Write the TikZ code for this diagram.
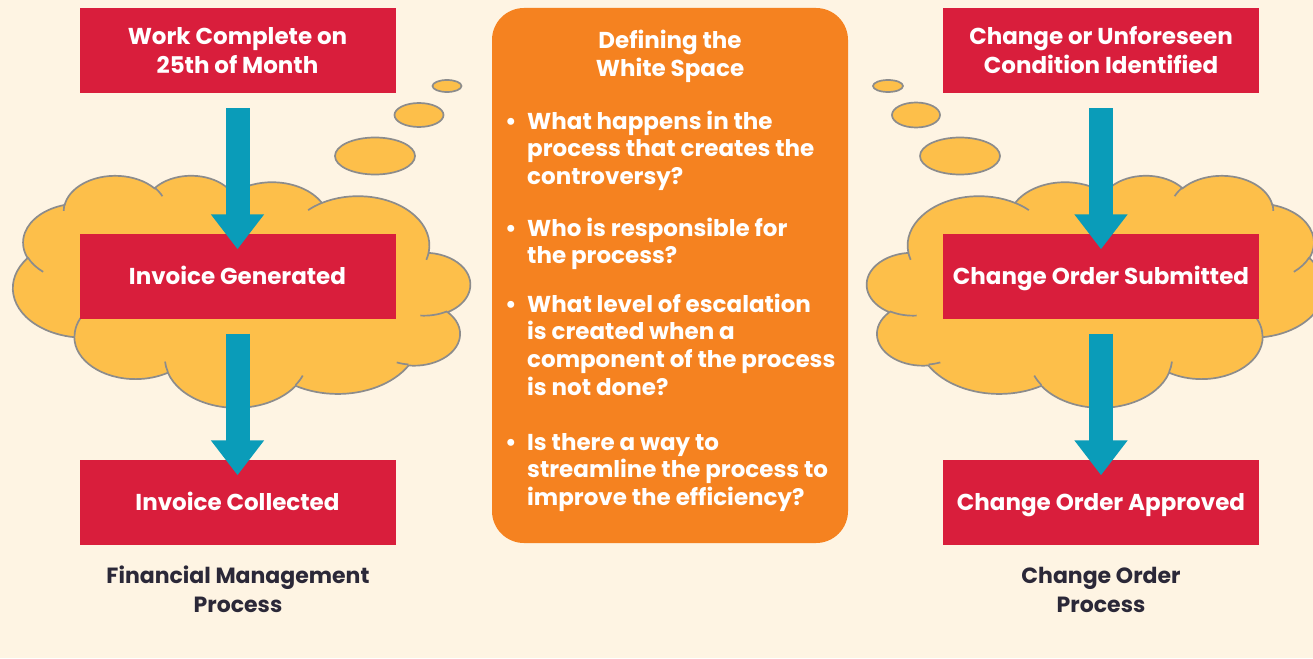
\documentclass[tikz,border=0pt]{standalone}
\usepackage{fontspec}
\setmainfont{Poppins}
\usetikzlibrary{arrows.meta}

\definecolor{paper}{HTML}{FEF4E3}
\definecolor{boxred}{HTML}{D91E3C}
\definecolor{panelorange}{HTML}{F58220}
\definecolor{puff}{HTML}{FDBF4A}
\definecolor{puffline}{HTML}{8C8C8C}
\definecolor{flowteal}{HTML}{0A9CB9}
\definecolor{inkdark}{HTML}{2B2838}

% cloud outline built from elliptic arcs given by their visual angles
\def\cloudpath{}
\def\creasepath{}
\newcommand\addarc[4]{%
  \pgfmathsetmacro\arcS{atan2((#1)*sin(#3),(#2)*cos(#3))}%
  \pgfmathsetmacro\arcE{atan2((#1)*sin((#3)+(#4)),(#2)*cos((#3)+(#4)))}%
  \pgfmathsetmacro\arcD{mod(\arcE-(\arcS)+720,360)}%
  \xdef\cloudpath{\cloudpath arc[x radius=#1,y radius=#2,start angle=\arcS,delta angle=\arcD]}}
\newcommand\addcrease[6]{%
  \pgfmathsetmacro\arcS{atan2((#3)*sin(#5),(#4)*cos(#5))}%
  \pgfmathsetmacro\arcE{atan2((#3)*sin((#5)+(#6)),(#4)*cos((#5)+(#6)))}%
  \pgfmathsetmacro\arcD{mod(\arcE-(\arcS)+720,360)}%
  \xdef\creasepath{\creasepath (#1,#2) arc[x radius=#3,y radius=#4,start angle=\arcS,delta angle=\arcD]}}
\newcommand\tstrut{\rule{0pt}{20pt}}

\begin{document}
\begin{tikzpicture}[x=1pt,y=-1pt,
  every node/.style={font=\fontsize{23}{29}\selectfont\bfseries},
  redbox/.style={fill=boxred,text=white,minimum width=316pt,minimum height=85pt,
    inner sep=0pt,align=center},
  oneline/.style={text height=16pt,text depth=0pt},
  cloudshape/.style={fill=puff,draw=puffline,line width=1.7pt},
  creaseline/.style={draw=puffline,line width=1.7pt},
  flow/.style={draw=flowteal,line width=24pt,-{Triangle[width=51pt,length=35pt]}},
  bodytext/.style={text=white,inner sep=0pt,align=left,
    font=\fontsize{23}{27.7}\selectfont\bfseries},
  bulletmark/.style={text=white,inner sep=0pt,anchor=base},
  caption/.style={text=inkdark,inner sep=0pt,align=center,anchor=north,
    font=\fontsize{22}{29}\selectfont\bfseries}]

% cloud geometry (432 x 432 unit box)
\addarc{67.53}{91.90}{-190.4875}{123.7805}
\addarc{53.33}{72.67}{-144.1024}{89.9452}
\addarc{43.65}{59.45}{-145.8079}{99.7230}
\addarc{48.57}{65.95}{-130.9861}{117.2417}
\addarc{53.33}{72.73}{-78.7089}{109.0269}
\addarc{67.75}{92.20}{-46.2673}{130.2690}
\addarc{57.85}{78.67}{0.6250}{114.0333}
\addarc{67.52}{92.15}{22.4516}{115.1726}
\addarc{77.20}{105.43}{66.2426}{75.7110}
\addarc{43.60}{59.18}{-274.9421}{146.7356}
\addarc{43.45}{59.45}{-246.8285}{152.5189}
\addcrease{46.93}{261.77}{43.45}{59.45}{86.742}{26.4295}
\addcrease{69.28}{348.99}{43.60}{59.18}{73.6105}{11.4475}
\addcrease{164.78}{390.90}{67.52}{92.15}{137.6242}{14.0811}
\addcrease{288.27}{347.51}{67.52}{92.15}{6.4533}{15.9984}
\addcrease{341.29}{229.54}{57.85}{78.67}{-70.2924}{70.9174}
\addcrease{417.98}{153.54}{53.33}{72.73}{30.3180}{27.7515}
\addcrease{383.24}{54.26}{48.57}{65.95}{-13.7443}{14.8589}
\addcrease{290.78}{39.52}{48.57}{65.95}{-149.1815}{18.1954}
\addcrease{221.41}{47.20}{43.65}{59.45}{-163.4943}{17.6864}
\addcrease{140.00}{51.92}{67.53}{91.90}{-66.7070}{12.3194}
\addcrease{41.27}{157.89}{67.53}{91.90}{157.6544}{11.8582}

\useasboundingbox (0,0) rectangle (1313,658);
\clip (0,0) rectangle (1313,658);
\fill[paper] (0,0) rectangle (1313,658);

% left thought cloud (mirrored)
\begin{scope}[shift={(470,175)},x=-1.05787pt,y=-0.53704pt]
  \path[cloudshape] (39,143.7) \cloudpath -- cycle;
  \path[creaseline] \creasepath;
\end{scope}
\path[cloudshape] (447,86) ellipse[x radius=14.5,y radius=6];
\path[cloudshape] (419,115) ellipse[x radius=24.5,y radius=12];
\path[cloudshape] (375,156) ellipse[x radius=40,y radius=18.5];

% right thought cloud
\begin{scope}[shift={(867,175)},x=1.05787pt,y=-0.53704pt]
  \path[cloudshape] (39,143.7) \cloudpath -- cycle;
  \path[creaseline] \creasepath;
\end{scope}
\path[cloudshape] (888,86) ellipse[x radius=15,y radius=6];
\path[cloudshape] (916,115) ellipse[x radius=24,y radius=12.5];
\path[cloudshape] (960,156) ellipse[x radius=40,y radius=18.5];

% financial management process
\node[redbox] (fin1) at (237.5,50.5) {Work Complete on\\25th of Month};
\node[redbox,oneline] (fin2) at (237.5,276) {Invoice Generated};
\node[redbox,oneline] (fin3) at (237.5,502) {Invoice Collected};
\draw[flow] ([yshift=-15pt]fin1.south) -- ([yshift=-16pt]fin2.north);
\draw[flow] ([yshift=-15pt]fin2.south) -- ([yshift=-16pt]fin3.north);
\node[caption] (fincap) at (238,563) {\tstrut Financial Management\\Process};

% change order process
\node[redbox] (chg1) at (1101,50.5) {Change or Unforeseen\\Condition Identified};
\node[redbox,oneline] (chg2) at (1101,276) {Change Order Submitted};
\node[redbox,oneline] (chg3) at (1101,502) {Change Order Approved};
\draw[flow] ([yshift=-15pt]chg1.south) -- ([yshift=-16pt]chg2.north);
\draw[flow] ([yshift=-15pt]chg2.south) -- ([yshift=-16pt]chg3.north);
\node[caption] (chgcap) at (1101,563) {\tstrut Change Order\\Process};

% white space panel
\fill[panelorange,rounded corners=32pt] (492,8) rectangle (848,543);
\node[text=white,inner sep=0pt,align=center,anchor=north,
  font=\fontsize{23}{28.5}\selectfont\bfseries] (title) at (670,28)
  {\tstrut Defining the\\White Space};

\node[bulletmark] (b1) at (511,129) {\textbullet};
\node[bodytext,anchor=north west] (q1) at (527,109)
  {\tstrut What happens in the\\process that creates the\\controversy?};
\node[bulletmark] (b2) at (511,236) {\textbullet};
\node[bodytext,anchor=north west] (q2) at (527,216)
  {\tstrut Who is responsible for\\the process?};
\node[bulletmark] (b3) at (511,312) {\textbullet};
\node[bodytext,anchor=north west] (q3) at (527,292)
  {\tstrut What level of escalation\\is created when a\\component of the process\\is not done?};
\node[bulletmark] (b4) at (511,450) {\textbullet};
\node[bodytext,anchor=north west] (q4) at (527,430)
  {\tstrut Is there a way to\\streamline the process to\\improve the efficiency?};
\end{tikzpicture}
\end{document}
